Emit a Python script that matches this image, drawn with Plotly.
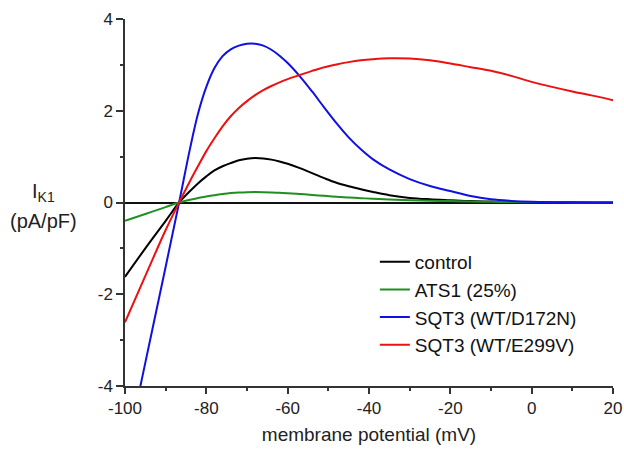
import plotly.graph_objects as go

# Membrane potential (mV)
voltage = [-100, -95, -90, -86.7, -84, -82, -80, -78, -76, -74, -72, -70, -68, -66, -64, -62,
           -60, -57, -54, -51, -48, -45, -42, -39, -35, -30, -25, -20, -15, -10, -5, 0, 5, 10, 15, 20]

# I_K1 (pA/pF)
control = [-1.62, -1.00, -0.40, 0.0, 0.25, 0.42, 0.57, 0.70, 0.79, 0.86, 0.92, 0.955, 0.97, 0.96,
           0.935, 0.895, 0.845, 0.75, 0.64, 0.53, 0.43, 0.355, 0.29, 0.23, 0.16, 0.10, 0.07, 0.05,
           0.03, 0.02, 0.01, 0.006, 0.003, 0.002, 0.001, 0.0]
ats1 = [-0.40, -0.25, -0.10, 0.0, 0.06, 0.10, 0.13, 0.16, 0.185, 0.205, 0.218, 0.225, 0.227, 0.225,
        0.22, 0.21, 0.20, 0.185, 0.165, 0.145, 0.125, 0.11, 0.095, 0.08, 0.065, 0.05, 0.04, 0.03,
        0.02, 0.015, 0.01, 0.007, 0.004, 0.002, 0.001, 0.0]
sqt3_d172n = [-5.6, -3.49, -1.40, 0.0, 1.18, 1.95, 2.52, 2.93, 3.19, 3.34, 3.42, 3.46, 3.46, 3.42,
              3.33, 3.20, 3.04, 2.75, 2.42, 2.07, 1.73, 1.42, 1.16, 0.94, 0.72, 0.51, 0.36, 0.25,
              0.14, 0.07, 0.035, 0.015, 0.007, 0.003, 0.001, 0.0]
sqt3_e299v = [-2.61, -1.60, -0.60, 0.0, 0.47, 0.80, 1.12, 1.40, 1.66, 1.88, 2.06, 2.21, 2.34, 2.45,
              2.54, 2.62, 2.69, 2.78, 2.87, 2.95, 3.01, 3.06, 3.10, 3.125, 3.145, 3.14, 3.10, 3.03,
              2.95, 2.87, 2.76, 2.63, 2.52, 2.42, 2.33, 2.23]

series_names = ["control", "ATS1 (25%)", "SQT3 (WT/D172N)", "SQT3 (WT/E299V)"]
series_values = [control, ats1, sqt3_d172n, sqt3_e299v]
series_colors = ["#000000", "#1f8f1f", "#1010e0", "#ee1010"]

x_ticks = [-100, -80, -60, -40, -20, 0, 20]
y_ticks = [-4, -2, 0, 2, 4]

FONT = "Liberation Sans, Arial, sans-serif"
AX = "#333333"

fig = go.Figure()
for name, vals, col in zip(series_names, series_values, series_colors):
    fig.add_trace(go.Scatter(x=voltage, y=vals, name=name, mode="lines",
                             line=dict(color=col, width=2, shape="spline", smoothing=1.0)))

fig.update_layout(
    width=624, height=449,
    margin=dict(l=125, r=11, t=19, b=63, autoexpand=False),
    paper_bgcolor="white", plot_bgcolor="white",
    font=dict(family=FONT, color="#222222"),
    showlegend=True,
    legend=dict(x=0.512, y=0.39, xanchor="left", yanchor="top",
                font=dict(size=19, family=FONT, color="#111111"),
                bgcolor="rgba(0,0,0,0)", borderwidth=0, tracegroupgap=0),
    xaxis=dict(range=[-100, 20], tickvals=x_ticks, ticktext=[str(v) for v in x_ticks],
               automargin=False,
               showgrid=False, zeroline=False, showline=True, linecolor=AX, linewidth=1.5,
               ticks="outside", ticklen=6, tickwidth=1.5, tickcolor=AX,
               minor=dict(dtick=10, tick0=-100, ticks="outside", ticklen=3, tickwidth=1.5, tickcolor=AX),
               tickfont=dict(size=17, family=FONT, color="#222222"),
               title=dict(text="membrane potential (mV)", font=dict(size=19, family=FONT, color="#222222"),
                          standoff=11)),
    yaxis=dict(range=[-4, 4], tickvals=y_ticks, ticktext=[str(v) for v in y_ticks],
               automargin=False,
               showgrid=False, zeroline=True, zerolinecolor="#111111", zerolinewidth=1.5,
               showline=True, linecolor=AX, linewidth=1.5,
               ticks="outside", ticklen=7, tickwidth=1.5, tickcolor=AX,
               minor=dict(dtick=1, tick0=-4, ticks="outside", ticklen=3, tickwidth=1.5, tickcolor=AX),
               tickfont=dict(size=17, family=FONT, color="#222222")),
)

fig.add_annotation(text="I<sub>K1</sub>", xref="paper", yref="paper",
                   x=-0.166, y=0.526, xanchor="center", yanchor="middle", showarrow=False,
                   font=dict(size=20, family=FONT, color="#222222"))
fig.add_annotation(text="(pA/pF)", xref="paper", yref="paper",
                   x=-0.166, y=0.45, xanchor="center", yanchor="middle", showarrow=False,
                   font=dict(size=20, family=FONT, color="#222222"))

fig.write_html("out.html", config={"displayModeBar": False},
               post_script="document.body.style.margin='0';document.documentElement.style.overflow='hidden';")
